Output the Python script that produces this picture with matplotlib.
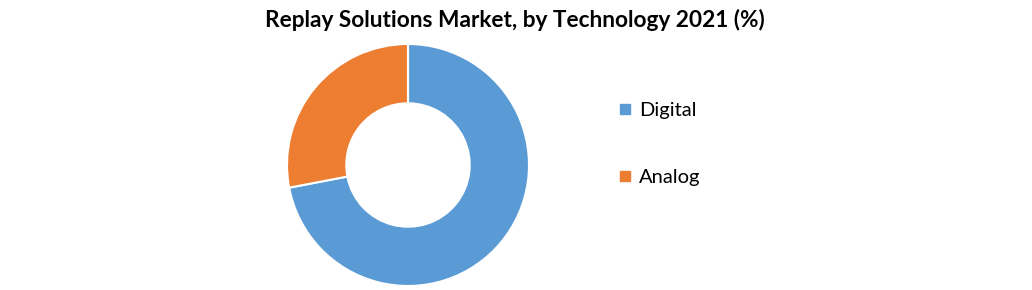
import matplotlib
matplotlib.use("Agg")
import matplotlib.pyplot as plt
from matplotlib.lines import Line2D

categories = ["Digital", "Analog"]
values = [72, 28]
colors = ["#5B9BD5", "#ED7D31"]
title = "Replay Solutions Market, by Technology 2021 (%)"

plt.rcParams['font.family'] = ['Lato', 'DejaVu Sans']

W, H = 1032, 290
fig = plt.figure(figsize=(W / 100, H / 100), dpi=100)
fig.patch.set_facecolor("white")

cx, cy, r = 408, 165, 121
ax = fig.add_axes([(cx - r) / W, (H - cy - r) / H, 2 * r / W, 2 * r / H])
ax.pie(values, colors=colors, startangle=90, counterclock=False, radius=1,
       wedgeprops=dict(width=0.49, edgecolor="white", linewidth=1.5))
ax.set_xlim(-1, 1)
ax.set_ylim(-1, 1)
ax.set_aspect("equal")
ax.axis("off")

fig.text(515 / W, 1 - 20 / H, title, ha="center", va="center",
         fontsize=16.3, fontweight="bold", color="#000000")

handles = [Line2D([0], [0], marker="s", linestyle="none", markersize=7,
                  markerfacecolor=c, markeredgecolor=c) for c in colors]
fig.legend(handles, categories, loc="center left",
           bbox_to_anchor=(607 / W, 1 - 144 / H), frameon=False,
           fontsize=14.5, labelspacing=2.45, handletextpad=0.2,
           handlelength=1.0, borderaxespad=0)

fig.savefig("out.png", dpi=100, facecolor="white")
